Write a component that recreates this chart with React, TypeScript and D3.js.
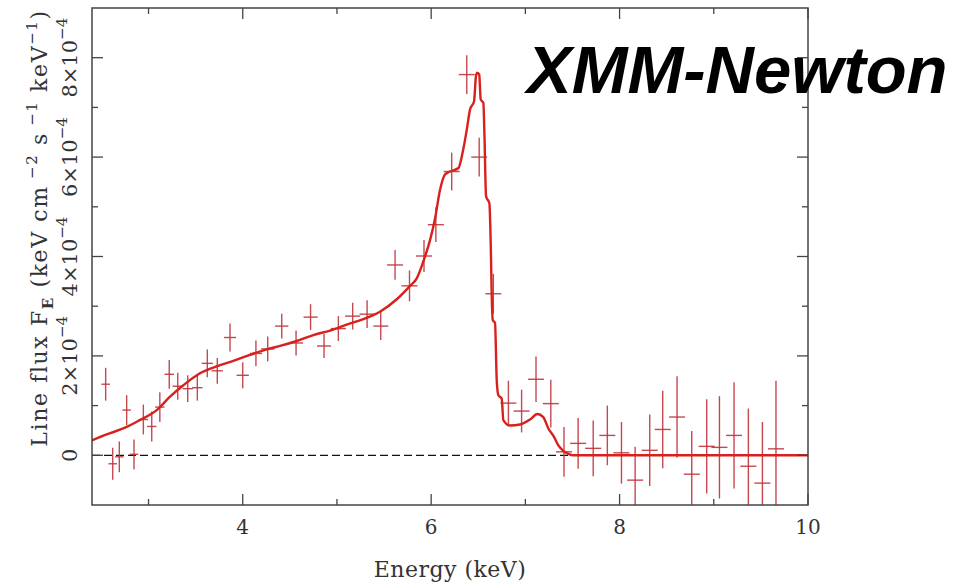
import React from 'react';
import * as d3 from 'd3';

// Observed line profile, flux in units of 1e-4 keV cm^-2 s^-1 keV^-1
const energy = [2.545, 2.62, 2.69, 2.768, 2.846, 2.945, 3.034, 3.12, 3.22, 3.31, 3.416, 3.518, 3.624, 3.73, 3.865, 4.0, 4.14, 4.265, 4.414, 4.566, 4.72, 4.863, 5.015, 5.167, 5.32, 5.465, 5.617, 5.77, 5.924, 6.05, 6.218, 6.378, 6.51, 6.66, 6.82, 6.96, 7.113, 7.27, 7.41, 7.56, 7.72, 7.87, 8.02, 8.165, 8.32, 8.458, 8.61, 8.766, 8.925, 9.06, 9.215, 9.367, 9.516, 9.66];
const energyHalf = [0.045, 0.045, 0.045, 0.045, 0.045, 0.05, 0.05, 0.05, 0.05, 0.055, 0.055, 0.055, 0.06, 0.06, 0.065, 0.065, 0.065, 0.07, 0.07, 0.075, 0.075, 0.075, 0.08, 0.08, 0.08, 0.08, 0.085, 0.085, 0.085, 0.085, 0.085, 0.085, 0.085, 0.085, 0.085, 0.085, 0.085, 0.085, 0.085, 0.085, 0.085, 0.085, 0.085, 0.085, 0.085, 0.085, 0.085, 0.085, 0.085, 0.085, 0.085, 0.085, 0.085, 0.085];
const flux = [1.43, -0.17, -0.03, 0.91, 0.02, 0.72, 0.58, 0.97, 1.63, 1.39, 1.34, 1.36, 1.85, 1.70, 2.37, 1.61, 2.05, 2.14, 2.60, 2.26, 2.78, 2.20, 2.55, 2.80, 2.84, 2.60, 3.83, 3.41, 4.01, 4.64, 5.71, 7.66, 6.00, 3.25, 1.05, 0.89, 1.53, 1.04, 0.07, 0.24, 0.14, 0.40, 0.05, -0.50, 0.10, 0.52, 0.77, -0.38, 0.18, 0.16, 0.40, -0.22, -0.56, 0.13];
const fluxErr = [0.33, 0.32, 0.31, 0.30, 0.30, 0.30, 0.30, 0.30, 0.29, 0.27, 0.27, 0.26, 0.28, 0.26, 0.28, 0.26, 0.26, 0.25, 0.25, 0.25, 0.26, 0.24, 0.25, 0.27, 0.28, 0.28, 0.30, 0.31, 0.32, 0.35, 0.38, 0.39, 0.39, 0.40, 0.45, 0.43, 0.46, 0.48, 0.50, 0.51, 0.56, 0.60, 0.62, 0.67, 0.72, 0.78, 0.82, 0.87, 0.95, 1.03, 1.07, 1.16, 1.23, 1.37];

// Model line
const modelEnergy = [2.4, 2.556, 2.732, 2.91, 3.087, 3.228, 3.37, 3.546, 3.724, 3.9, 4.077, 4.255, 4.396, 4.573, 4.75, 4.927, 5.104, 5.28, 5.457, 5.635, 5.776, 5.847, 5.917, 5.988, 6.04, 6.094, 6.147, 6.2, 6.29, 6.34, 6.378, 6.413, 6.455, 6.476, 6.49, 6.51, 6.526, 6.554, 6.565, 6.583, 6.618, 6.633, 6.643, 6.654, 6.678, 6.696, 6.713, 6.749, 6.766, 6.837, 6.944, 7.05, 7.127, 7.19, 7.244, 7.304, 7.35, 7.403, 7.456, 7.51, 10];
const modelFlux = [0.30, 0.42, 0.54, 0.71, 0.91, 1.18, 1.41, 1.65, 1.79, 1.90, 2.02, 2.13, 2.20, 2.30, 2.42, 2.51, 2.63, 2.74, 2.89, 3.14, 3.41, 3.56, 3.90, 4.33, 4.75, 5.34, 5.65, 5.71, 5.78, 6.15, 6.55, 6.96, 7.12, 7.63, 7.70, 7.66, 7.16, 7.09, 6.49, 5.21, 5.07, 4.20, 3.20, 2.72, 2.66, 1.51, 1.21, 1.14, 0.71, 0.60, 0.62, 0.72, 0.83, 0.77, 0.54, 0.37, 0.20, 0.09, 0.03, 0.00, 0.00];

const xMajor = [4, 6, 8, 10];
const xMinor = [3, 5, 7, 9];
const yMajor = [0, 2, 4, 6, 8];
const yMinor = [1, 3, 5, 7];

const W = 969, H = 582;
const L = 92, R = 808, T = 8, B = 505;
const FONT = '"DejaVu Serif", serif';
const TXT = '#333';

export default function App() {
    const x = d3.scaleLinear().domain([2.4, 10]).range([L, R]);
    const y = d3.scaleLinear().domain([-1, 9]).range([B, T]);

    const line = d3.line<number>()
        .x((_, i) => x(modelEnergy[i]))
        .y(d => y(d))
        .curve(d3.curveMonotoneX);

    const frame = '#444';
    const major = 11, minor = 6;

    return (
        <svg width={W} height={H} style={{ position: 'absolute', left: 0, top: 0, background: '#fff' }}>
            <defs>
                <clipPath id="plot"><rect x={L} y={T} width={R - L} height={B - T} /></clipPath>
            </defs>

            {/* zero line */}
            <line x1={L} x2={R} y1={y(0)} y2={y(0)} stroke="#111" strokeWidth={1.2} strokeDasharray="8,4" />

            <g clipPath="url(#plot)">
                {energy.map((e, i) => (
                    <g key={i} stroke="#c0343c" strokeWidth={1.4} strokeOpacity={0.9}>
                        <line x1={x(e - energyHalf[i])} x2={x(e + energyHalf[i])} y1={y(flux[i])} y2={y(flux[i])} />
                        <line x1={x(e)} x2={x(e)} y1={y(flux[i] - fluxErr[i])} y2={y(flux[i] + fluxErr[i])} />
                    </g>
                ))}
                <path d={line(modelFlux) || ''} fill="none" stroke="#d8201c" strokeWidth={2.4} strokeLinejoin="round" />
            </g>

            {/* frame & ticks */}
            <rect x={L} y={T} width={R - L} height={B - T} fill="none" stroke={frame} strokeWidth={1.5} />
            <g stroke={frame} strokeWidth={1.3}>
                {xMajor.map(v => (
                    <g key={'xm' + v}>
                        <line x1={x(v)} x2={x(v)} y1={B} y2={B - major} />
                        <line x1={x(v)} x2={x(v)} y1={T} y2={T + major} />
                    </g>
                ))}
                {xMinor.map(v => (
                    <g key={'xn' + v}>
                        <line x1={x(v)} x2={x(v)} y1={B} y2={B - minor} />
                        <line x1={x(v)} x2={x(v)} y1={T} y2={T + minor} />
                    </g>
                ))}
                {yMajor.map(v => (
                    <g key={'ym' + v}>
                        <line x1={L} x2={L + major} y1={y(v)} y2={y(v)} />
                        <line x1={R} x2={R - major} y1={y(v)} y2={y(v)} />
                    </g>
                ))}
                {yMinor.map(v => (
                    <g key={'yn' + v}>
                        <line x1={L} x2={L + minor} y1={y(v)} y2={y(v)} />
                        <line x1={R} x2={R - minor} y1={y(v)} y2={y(v)} />
                    </g>
                ))}
            </g>

            {/* x tick labels */}
            <g fontFamily={FONT} fontSize={20} fill={TXT} textAnchor="middle">
                {xMajor.map(v => (
                    <text key={'xl' + v} x={x(v)} y={534}>{v}</text>
                ))}
            </g>

            {/* y tick labels */}
            <g fontFamily={FONT} fontSize={21} fill={TXT} textAnchor="middle">
                {yMajor.map(v => (
                    <text key={'yl' + v} transform={`translate(77,${y(v)}) rotate(-90)`}>
                        {v === 0 ? '0' : (
                            <>
                                {`${v}×10`}
                                <tspan dy={-10} fontSize={15}>−4</tspan>
                            </>
                        )}
                    </text>
                ))}
            </g>

            {/* axis titles */}
            <text x={450} y={577} fontFamily={FONT} fontSize={22} letterSpacing={0.5} fill={TXT} textAnchor="middle">Energy (keV)</text>
            <text transform="translate(47,228) rotate(-90)" fontFamily={FONT} fontSize={22} letterSpacing={1.6} fill={TXT} textAnchor="middle">
                Line flux F<tspan dy={6} fontSize={15} fontWeight="bold">E</tspan>
                <tspan dy={-6}> (keV cm</tspan>
                <tspan dy={-10} fontSize={15}> −2</tspan>
                <tspan dy={10}> s</tspan>
                <tspan dy={-10} fontSize={15}> −1</tspan>
                <tspan dy={10}> keV</tspan>
                <tspan dy={-10} fontSize={15}>−1</tspan>
                <tspan dy={10}>)</tspan>
            </text>

            {/* instrument label */}
            <text x={527} y={93} fontFamily='"Liberation Sans", Arial, sans-serif' fontSize={67}
                fontWeight="bold" fontStyle="italic" fill="#000">XMM-Newton</text>
        </svg>
    );
}
